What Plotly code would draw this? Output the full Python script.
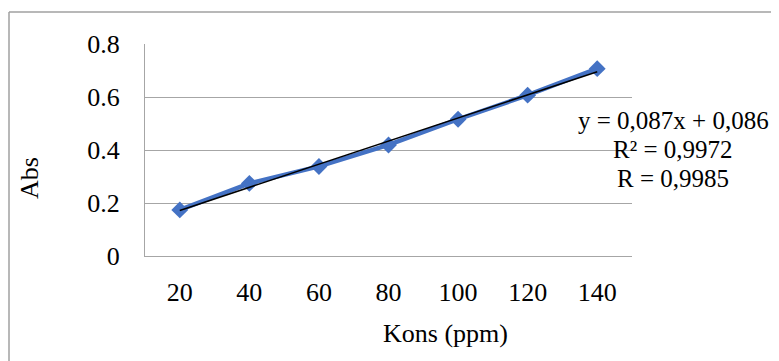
import numpy as np
import plotly.graph_objects as go

categories = ["20", "40", "60", "80", "100", "120", "140"]
abs_values = [0.174, 0.274, 0.338, 0.419, 0.516, 0.607, 0.707]
y_ticks = [0, 0.2, 0.4, 0.6, 0.8]
y_tick_labels = ["0", "0.2", "0.4", "0.6", "0.8"]
eq_lines = ["y = 0,087x + 0,086", "R² = 0,9972", "R = 0,9985"]

idx = np.arange(1, len(abs_values) + 1)
slope, intercept = np.polyfit(idx, abs_values, 1)
trend = slope * idx + intercept

FONT = "Liberation Serif, Times New Roman, serif"
FS = 26
EQ_FS = 25
OFF = 8  # default body margin of the page
W, H = 779 - OFF, 361 - OFF
L, R, T, B = 145 - OFF, 147, 44 - OFF, 105
pw, ph = W - L - R, H - T - B

def px(x):
    return (x - OFF - L) / pw

def py(y):
    return (H - B - (y - OFF)) / ph

fig = go.Figure()
fig.add_trace(go.Scatter(
    x=categories, y=abs_values, mode="lines+markers",
    line=dict(color="#4472C4", width=4.5),
    marker=dict(symbol="diamond", size=13, color="#4472C4"),
    showlegend=False, hoverinfo="skip"))
fig.add_trace(go.Scatter(
    x=categories, y=trend, mode="lines",
    line=dict(color="#000000", width=1.5),
    showlegend=False, hoverinfo="skip"))

grid = "#a6a6a6"
fig.update_layout(
    width=W, height=H,
    margin=dict(l=L, r=R, t=T, b=B, pad=0),
    paper_bgcolor="white", plot_bgcolor="white",
    font=dict(family=FONT, size=FS, color="black"),
    xaxis=dict(type="category", range=[-0.5, 6.5], showgrid=False,
               showline=True, linecolor=grid, linewidth=1,
               ticks="outside", ticklen=13, tickcolor="rgba(0,0,0,0)",
               tickfont=dict(family=FONT, size=FS), fixedrange=True),
    yaxis=dict(range=[0, 0.8], tickvals=y_ticks, ticktext=y_tick_labels,
               showgrid=True, gridcolor=grid, gridwidth=1,
               showline=True, linecolor=grid, linewidth=1, zeroline=False,
               ticks="outside", ticklen=19, tickcolor="rgba(0,0,0,0)",
               tickfont=dict(family=FONT, size=FS), fixedrange=True),
)

# outer chart-area border (only left and top visible in crop)
bx, by = px(9), py(12)
fig.add_shape(type="line", xref="paper", yref="paper", x0=bx, y0=by, x1=bx, y1=py(400),
              line=dict(color="#a0a0a0", width=1.5))
fig.add_shape(type="line", xref="paper", yref="paper", x0=bx, y0=by, x1=px(800), y1=by,
              line=dict(color="#a0a0a0", width=1.5))

# axis titles
fig.add_annotation(text="Abs", xref="paper", yref="paper", x=px(29), y=py(178),
                   showarrow=False, textangle=-90, font=dict(family=FONT, size=FS),
                   xanchor="center", yanchor="middle")
fig.add_annotation(text="Kons (ppm)", xref="paper", yref="paper", x=px(445), y=py(333),
                   showarrow=False, font=dict(family=FONT, size=FS),
                   xanchor="center", yanchor="middle")

# trendline equation
for line, ypix in zip(eq_lines, [120, 149, 178]):
    fig.add_annotation(text=line, xref="paper", yref="paper", x=px(673), y=py(ypix),
                       showarrow=False, font=dict(family=FONT, size=EQ_FS),
                       xanchor="center", yanchor="middle")

fig.write_html("out.html")
